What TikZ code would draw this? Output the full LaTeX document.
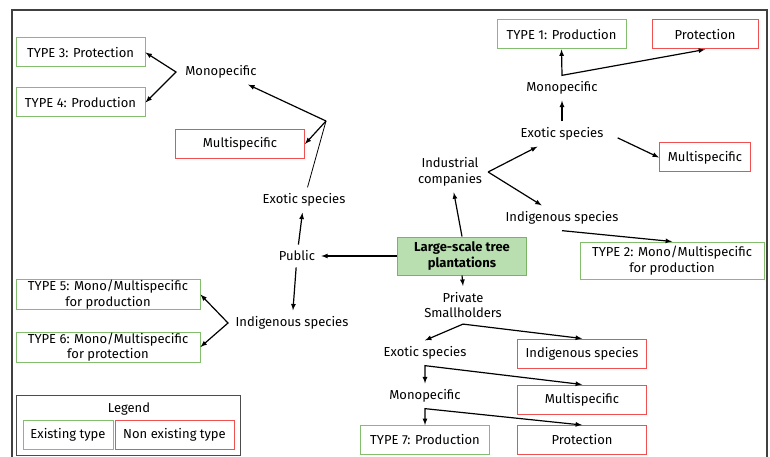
\documentclass[tikz,border=0pt]{standalone}
\usepackage{fontspec}
\setmainfont{Fira Sans}
\definecolor{okgreen}{RGB}{130,190,110}
\definecolor{nored}{RGB}{240,80,80}
\definecolor{mainfill}{RGB}{185,223,176}
\definecolor{mainline}{RGB}{120,180,100}
\tikzset{
  lbl/.style={inner sep=6pt, align=center},
  exist/.style={draw=okgreen, line width=1pt, inner sep=0pt, minimum width=129, minimum height=29, align=center},
  absent/.style={draw=nored, line width=1pt, inner sep=0pt, minimum width=129, minimum height=29, align=center},
  wide/.style={minimum width=184, minimum height=30},
  link/.style={line width=1.2pt, -latex},
  twolink/.style={line width=1.2pt, latex-latex}
}
\begin{document}
\begin{tikzpicture}[x=1pt, y=-1pt, font=\fontsize{13}{15.5}\selectfont]
    \useasboundingbox (0,0) rectangle (770,457);
    \draw[line width=1.3pt, black!75] (12,470) -- (12,10) -- (767,10) -- (767,470);

    % centre
    \node[draw=mainline, fill=mainfill, line width=1pt, minimum width=129, minimum height=38, inner sep=0pt, align=center, font=\fontsize{13}{15.5}\selectfont\bfseries] (root) at (462,256) {Large-scale tree\\plantations};

    % public branch
    \node[lbl] (pub) at (297,256) {Public};
    \node[lbl] (pubexo) at (304,200) {Exotic species};
    \node[lbl] (pubind) at (292,323) {Indigenous species};
    \node[lbl] (pubmono) at (221,72) {Monopecific};
    \node[absent] (pubmulti) at (240,144) {Multispecific};
    \node[exist] (t3) at (80.5,52.5) {TYPE 3: Protection};
    \node[exist] (t4) at (80.5,102.5) {TYPE 4: Production};
    \node[exist, wide] (t5) at (108,294.5) {TYPE 5: Mono/Multispecific\\for production};
    \node[exist, wide] (t6) at (108,347) {TYPE 6: Mono/Multispecific\\for protection};
    \coordinate (pubfork) at (326,121);
    \coordinate (monofork) at (176,72);
    \coordinate (indfork) at (228,323);

    \draw[link] (root.west) -- (pub.east);
    \draw[link] (pub) -- (pubexo);
    \draw[link] (pub) -- (pubind);
    \draw[line width=0.8pt] (pubexo) -- (pubfork);
    \draw[link] (pubfork) -- (pubmono);
    \draw[link] (pubfork) -- (pubmulti.east);
    \draw[twolink] (t3.east) -- (monofork) -- (t4.east);
    \draw[twolink] (t5.east) -- (indfork) -- (t6.east);

    % industrial branch
    \node[lbl] (ind) at (450,172) {Industrial\\companies};
    \node[lbl] (indexo) at (562,134) {Exotic species};
    \node[lbl] (indind) at (562,218) {Indigenous species};
    \node[lbl] (indmono) at (562,88) {Monopecific};
    \node[exist] (t1) at (561.5,34.5) {TYPE 1: Production};
    \node[absent, minimum width=106] (indprot) at (705,34.5) {Protection};
    \node[absent, minimum width=91] (indmulti) at (705,157.5) {Multispecific};
    \node[exist, wide, minimum height=37] (t2) at (672,260.5) {TYPE 2: Mono/Multispecific\\for production};

    \draw[link] (root.north) -- (ind);
    \draw[link] (ind.east) -- (indexo);
    \draw[link] (ind.east) -- (indind);
    \draw[link] (indexo) -- (indmono);
    \draw[twolink] (t1.south) -- (indmono.north) -- (indprot.south);
    \draw[link, shorten <=9pt] (indexo.east) -- (indmulti.west);
    \draw[link] (indind.south) -- (t2.north);

    % private branch
    \node[lbl] (priv) at (463,305) {Private\\Smallholders};
    \node[lbl] (privexo) at (425,353) {Exotic species};
    \node[absent] (privind) at (582,353.5) {Indigenous species};
    \node[lbl] (privmono) at (425,396) {Monopecific};
    \node[absent] (privmulti) at (582,399.5) {Multispecific};
    \node[exist] (t7) at (425,440) {TYPE 7: Production};
    \node[absent] (privprot) at (582,440) {Protection};

    \draw[link] (root.south) -- (priv.north);
    \draw[twolink] (privexo.north) -- (priv.south) -- (privind.north);
    \draw[twolink] (privmono.north) -- (privexo.south) -- (privmulti.north);
    \draw[twolink] (t7.north) -- (privmono.south) -- (privprot.north);

    % legend
    \node[draw=black!70, line width=1pt, minimum width=224, minimum height=60, inner sep=0pt] (leg) at (128,425) {};
    \node (legtitle) at (129,409) {Legend};
    \node[exist, minimum width=90] (legyes) at (68,434.5) {Existing type};
    \node[absent, minimum width=119] (legno) at (174.5,434.5) {Non existing type};
\end{tikzpicture}
\end{document}
